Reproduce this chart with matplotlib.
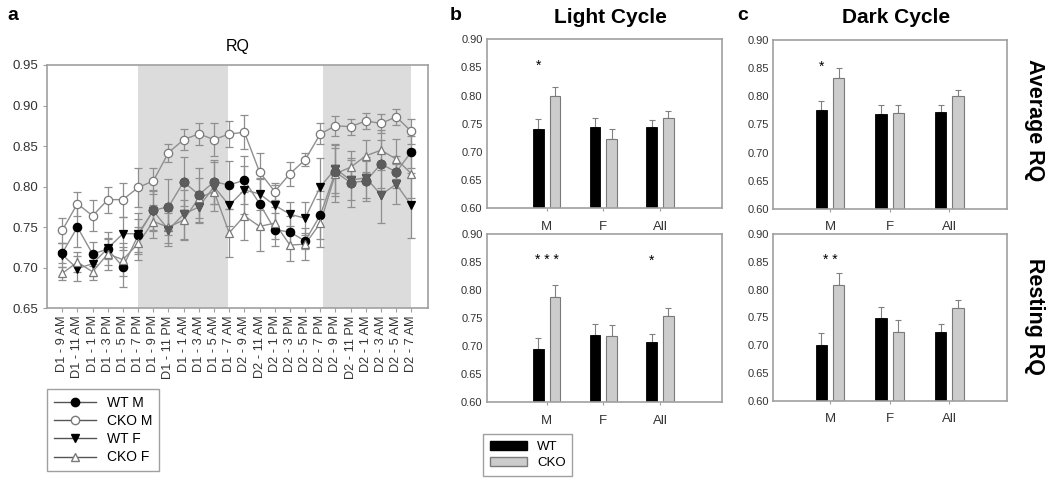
import matplotlib
matplotlib.use('Agg')
import matplotlib.pyplot as plt
from matplotlib.lines import Line2D
from matplotlib.patches import Patch
import numpy as np

plt.rcParams['font.family'] = ['Liberation Sans', 'DejaVu Sans']

# ---- panel a : RQ time course ----
times = ['D1 - 9 AM', 'D1 - 11 AM', 'D1 - 1 PM', 'D1 - 3 PM', 'D1 - 5 PM', 'D1 - 7 PM',
         'D1 - 9 PM', 'D1 - 11 PM', 'D1 - 1 AM', 'D1 - 3 AM', 'D1 - 5 AM', 'D1 - 7 AM',
         'D2 - 9 AM', 'D2 - 11 AM', 'D2 - 1 PM', 'D2 - 3 PM', 'D2 - 5 PM', 'D2 - 7 PM',
         'D2 - 9 PM', 'D2 - 11 PM', 'D2 - 1 AM', 'D2 - 3 AM', 'D2 - 5 AM', 'D2 - 7 AM']

wt_m = [0.718, 0.750, 0.717, 0.723, 0.701, 0.740, 0.771, 0.775, 0.806, 0.790, 0.806, 0.802,
        0.808, 0.779, 0.747, 0.744, 0.733, 0.765, 0.818, 0.805, 0.807, 0.828, 0.818, 0.843]
wt_m_err = [0.012, 0.025, 0.015, 0.012, 0.025, 0.020, 0.025, 0.035, 0.030, 0.033, 0.027, 0.030,
            0.030, 0.030, 0.020, 0.020, 0.010, 0.030, 0.030, 0.030, 0.025, 0.030, 0.020, 0.020]

cko_m = [0.746, 0.779, 0.764, 0.784, 0.784, 0.799, 0.807, 0.842, 0.858, 0.865, 0.858, 0.865,
         0.867, 0.818, 0.794, 0.816, 0.833, 0.865, 0.875, 0.874, 0.881, 0.878, 0.886, 0.868]
cko_m_err = [0.015, 0.015, 0.019, 0.016, 0.021, 0.024, 0.016, 0.011, 0.013, 0.014, 0.020, 0.016,
             0.021, 0.023, 0.010, 0.015, 0.008, 0.013, 0.012, 0.010, 0.010, 0.012, 0.010, 0.015]

wt_f = [0.716, 0.699, 0.705, 0.724, 0.742, 0.742, 0.770, 0.747, 0.766, 0.775, 0.800, 0.777,
        0.796, 0.791, 0.777, 0.766, 0.761, 0.800, 0.822, 0.808, 0.811, 0.790, 0.803, 0.777]
wt_f_err = [0.015, 0.015, 0.015, 0.020, 0.020, 0.025, 0.025, 0.020, 0.030, 0.020, 0.030, 0.025,
            0.030, 0.020, 0.025, 0.015, 0.020, 0.035, 0.030, 0.025, 0.025, 0.035, 0.025, 0.040]

cko_f = [0.693, 0.707, 0.695, 0.717, 0.710, 0.730, 0.757, 0.750, 0.759, 0.786, 0.794, 0.743,
         0.764, 0.751, 0.755, 0.728, 0.729, 0.755, 0.816, 0.824, 0.838, 0.845, 0.834, 0.816]
cko_f_err = [0.008, 0.012, 0.010, 0.020, 0.020, 0.020, 0.020, 0.020, 0.025, 0.025, 0.015, 0.030,
             0.030, 0.030, 0.020, 0.020, 0.020, 0.030, 0.035, 0.020, 0.020, 0.025, 0.025, 0.030]

# dark phases (index ranges on the time axis)
dark_spans = [(5, 10.9), (17.2, 23)]

# ---- panels b / c : bar charts ----
groups = ['M', 'F', 'All']
light_avg_wt = [0.741, 0.745, 0.744]
light_avg_wt_err = [0.017, 0.016, 0.012]
light_avg_cko = [0.799, 0.723, 0.760]
light_avg_cko_err = [0.017, 0.017, 0.012]

light_rest_wt = [0.695, 0.720, 0.707]
light_rest_wt_err = [0.020, 0.020, 0.015]
light_rest_cko = [0.788, 0.717, 0.753]
light_rest_cko_err = [0.021, 0.020, 0.014]

dark_avg_wt = [0.775, 0.769, 0.772]
dark_avg_wt_err = [0.016, 0.016, 0.012]
dark_avg_cko = [0.832, 0.770, 0.800]
dark_avg_cko_err = [0.019, 0.015, 0.012]

dark_rest_wt = [0.700, 0.748, 0.724]
dark_rest_wt_err = [0.022, 0.021, 0.014]
dark_rest_cko = [0.808, 0.724, 0.766]
dark_rest_cko_err = [0.021, 0.021, 0.015]

light_avg_stars = {0: '*'}
light_rest_stars = {0: '* * *', 2: '*'}
dark_avg_stars = {0: '*'}
dark_rest_stars = {0: '* *'}

fig = plt.figure(figsize=(10.5, 4.86), dpi=100)

line_c = '#8f8f8f'
spine_c = '#a0a0a0'
txt_c = '#333333'

# ---------------- panel a ----------------
ax = fig.add_axes([0.0448, 0.3656, 0.3629, 0.5007])
x = np.arange(len(times))
for a0, a1 in dark_spans:
    ax.axvspan(a0, a1, color='#dcdcdc', lw=0, zorder=0)

series = [(wt_m, wt_m_err, 'o', 'black'),
          (cko_m, cko_m_err, 'o', 'white'),
          (wt_f, wt_f_err, 'v', 'black'),
          (cko_f, cko_f_err, '^', 'white')]
shaded = np.zeros(len(times), dtype=bool)
shaded[6:11] = True
shaded[18:23] = True
handles = []
for vals, errs, mk, fc in series:
    vals = np.array(vals)
    ec = 'black' if fc == 'black' else '#7a7a7a'
    ax.errorbar(x, vals, yerr=errs, color=line_c, lw=1.0, elinewidth=0.9,
                capsize=3, capthick=0.9, zorder=2)
    ax.plot(x, vals, ls='none', marker=mk, ms=6, mfc=fc, mec=ec, mew=0.9, zorder=3)
    if fc == 'black':
        ax.plot(x[shaded], vals[shaded], ls='none', marker=mk, ms=6,
                mfc='#5c5c5c', mec='#5c5c5c', zorder=4)
    handles.append(Line2D([], [], color='#555555', lw=1.0, marker=mk, ms=6,
                          mfc=fc, mec=ec))

ax.set_xlim(-1, 24.1)
ax.set_ylim(0.65, 0.95)
ax.set_yticks(np.arange(0.65, 0.951, 0.05))
ax.yaxis.set_major_formatter(plt.FormatStrFormatter('%.2f'))
ax.set_xticks(x)
ax.set_xticklabels(times, rotation=90, fontsize=9.2, color=txt_c)
ax.tick_params(axis='y', labelsize=9.5, colors=txt_c, length=3, color=spine_c)
ax.tick_params(axis='x', length=3, color=spine_c, pad=2)
for s in ax.spines.values():
    s.set_color(spine_c)
    s.set_linewidth(1.2)
ax.set_title('RQ', fontsize=11.5, pad=10)

fig.legend(handles, ['WT M', 'CKO M', 'WT F', 'CKO F'], loc='upper left',
           bbox_to_anchor=(0.0448, 0.1996), borderaxespad=0, fontsize=10, frameon=True,
           fancybox=False, edgecolor='#888888', handlelength=3.0, borderpad=0.5,
           labelspacing=0.3)

# ---------------- bar panels ----------------
def bar_panel(rect, wt, wt_err, cko, cko_err, stars, xlim):
    bx = fig.add_axes(rect)
    pos = np.arange(len(groups))
    w = 0.19
    off = 0.145
    bx.bar(pos - off, np.array(wt) - 0.6, w, bottom=0.6, color='black',
           edgecolor='black', lw=0.6, zorder=2)
    bx.bar(pos + off, np.array(cko) - 0.6, w, bottom=0.6, color='#cccccc',
           edgecolor='#7a7a7a', lw=0.8, zorder=2)
    bx.errorbar(pos - off, wt, yerr=[np.zeros(3), wt_err], fmt='none',
                ecolor='#808080', elinewidth=0.8, capsize=2.5, capthick=0.8, zorder=1)
    bx.errorbar(pos + off, cko, yerr=[np.zeros(3), cko_err], fmt='none',
                ecolor='#808080', elinewidth=0.8, capsize=2.5, capthick=0.8, zorder=1)
    for k, s in stars.items():
        bx.text(pos[k] - off if len(s) == 1 else pos[k], 0.853, s, ha='center',
                va='center', fontsize=10)
    bx.set_xlim(*xlim)
    bx.set_ylim(0.60, 0.90)
    bx.set_yticks(np.arange(0.60, 0.901, 0.05))
    bx.yaxis.set_major_formatter(plt.FormatStrFormatter('%.2f'))
    bx.set_xticks(pos)
    bx.set_xticklabels(groups, fontsize=9.5, color=txt_c)
    bx.tick_params(axis='y', labelsize=8, colors=txt_c, length=0, pad=3)
    bx.tick_params(axis='x', length=2, color=spine_c, pad=7)
    for s in bx.spines.values():
        s.set_color(spine_c)
        s.set_linewidth(1.2)
    return bx

lx = (-1.06, 3.09)
dx = (-0.95, 2.97)
bar_panel([0.4635, 0.5714, 0.2238, 0.3477], light_avg_wt, light_avg_wt_err,
          light_avg_cko, light_avg_cko_err, light_avg_stars, lx)
bar_panel([0.4635, 0.1728, 0.2238, 0.3457], light_rest_wt, light_rest_wt_err,
          light_rest_cko, light_rest_cko_err, light_rest_stars, lx)
bar_panel([0.7365, 0.5700, 0.2226, 0.3477], dark_avg_wt, dark_avg_wt_err,
          dark_avg_cko, dark_avg_cko_err, dark_avg_stars, dx)
bar_panel([0.7365, 0.1755, 0.2226, 0.3430], dark_rest_wt, dark_rest_wt_err,
          dark_rest_cko, dark_rest_cko_err, dark_rest_stars, dx)

bar_handles = [Patch(facecolor='black', edgecolor='black'),
               Patch(facecolor='#cccccc', edgecolor='#7a7a7a')]
fig.legend(bar_handles, ['WT', 'CKO'], loc='upper left', bbox_to_anchor=(0.46, 0.107),
           borderaxespad=0, fontsize=9.5, frameon=True, fancybox=False, edgecolor='#888888',
           handlelength=2.8, handleheight=0.7, borderpad=0.5, labelspacing=0.3)

# titles and labels
fig.text(0.581, 0.965, 'Light Cycle', ha='center', va='center', fontsize=15, fontweight='bold')
fig.text(0.853, 0.965, 'Dark Cycle', ha='center', va='center', fontsize=15, fontweight='bold')
fig.text(0.985, 0.753, 'Average RQ', ha='center', va='center', rotation=-90, fontsize=15.5,
         fontweight='bold')
fig.text(0.985, 0.348, 'Resting RQ', ha='center', va='center', rotation=-90, fontsize=15.5,
         fontweight='bold')
fig.text(0.012, 0.969, 'a', ha='center', va='center', fontsize=14, fontweight='bold')
fig.text(0.434, 0.969, 'b', ha='center', va='center', fontsize=14, fontweight='bold')
fig.text(0.707, 0.969, 'c', ha='center', va='center', fontsize=14, fontweight='bold')

fig.savefig('out.png', dpi=100)
